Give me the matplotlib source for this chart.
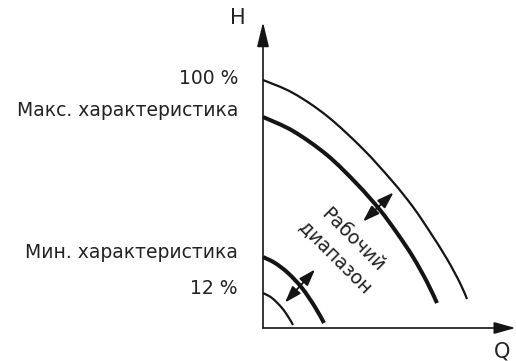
import numpy as np
import matplotlib.pyplot as plt
from matplotlib.path import Path
from matplotlib.patches import PathPatch

plt.rcParams['font.family'] = ['DejaVu Sans']

# points (Q, H), origin at the axes corner
q_100 = [0, 30, 64, 100, 130, 150, 167, 184, 197, 204]
h_100 = [248, 235, 212, 179, 146, 121, 96, 69, 45, 29]
q_max = [0, 30, 64, 94, 117, 134, 150, 164, 174]
h_max = [211, 197, 173, 144, 118, 95, 71, 46, 25]
q_min = [0, 12, 25, 39, 52, 61]
h_min = [71, 65, 55, 40, 21, 5]
q_12 = [0, 9, 19, 26, 30]
h_12 = [35, 30, 20, 10, 3]

curve_labels = ["100 %", "Макс. характеристика", "Мин. характеристика", "12 %"]
label_heads = [250, 218, 75, 40]
range_label = "Рабочий\nдиапазон"


def smooth_path(xs, ys):
    # cubic bezier segments passing through every read point (Catmull-Rom tangents)
    p = np.column_stack([xs, ys]).astype(float)
    ext = np.vstack([p[0], p, p[-1]])
    verts = [p[0]]
    codes = [Path.MOVETO]
    for i in range(len(p) - 1):
        a, b, c, d = ext[i], ext[i + 1], ext[i + 2], ext[i + 3]
        verts += [b + (c - a) / 6, c - (d - b) / 6, c]
        codes += [Path.CURVE4] * 3
    return Path(verts, codes)


fig = plt.figure(figsize=(5.16, 3.61), dpi=100)
ax = fig.add_axes([0, 0, 1, 1])
ax.set_xlim(-263, 253)
ax.set_ylim(-33, 328)
ax.axis("off")

ink = "#141414"
txt = "#222222"

# axes with filled arrow heads
ax.annotate("", xy=(0, 306), xytext=(0, 0),
            arrowprops=dict(arrowstyle="-|>,head_length=1.5,head_width=0.36",
                            color=ink, lw=1.2, shrinkA=0, shrinkB=0))
ax.annotate("", xy=(252.5, 0), xytext=(0, 0),
            arrowprops=dict(arrowstyle="-|>,head_length=1.3,head_width=0.36",
                            color=ink, lw=1.2, shrinkA=0, shrinkB=0))

for qs, hs, lw in [(q_100, h_100, 1.6), (q_max, h_max, 2.9),
                   (q_min, h_min, 2.9), (q_12, h_12, 1.6)]:
    ax.add_patch(PathPatch(smooth_path(qs, hs), facecolor="none", edgecolor=ink,
                           lw=lw, capstyle="butt"))

for name, h in zip(curve_labels, label_heads):
    ax.text(-25, h, name, ha="right", va="center", fontsize=13.5, color=txt)

# double arrows across the working range
arrow_kw = dict(arrowstyle="<|-|>,head_length=1.0,head_width=0.34", color=ink, lw=1.3,
                shrinkA=0, shrinkB=0)
ax.annotate("", xy=(130.5, 135.5), xytext=(100, 106.5), arrowprops=arrow_kw)
ax.annotate("", xy=(52, 58.5), xytext=(22, 25.5), arrowprops=arrow_kw)

ax.text(80.5, 79, range_label, rotation=-45, ha="center", va="center",
        fontsize=13.5, color=txt, linespacing=1.4, rotation_mode="anchor")

ax.text(-25, 310, "H", ha="center", va="center", fontsize=15, color=txt)
ax.text(239, -23, "Q", ha="center", va="center", fontsize=15, color=txt)

fig.savefig("out.png", dpi=100)
